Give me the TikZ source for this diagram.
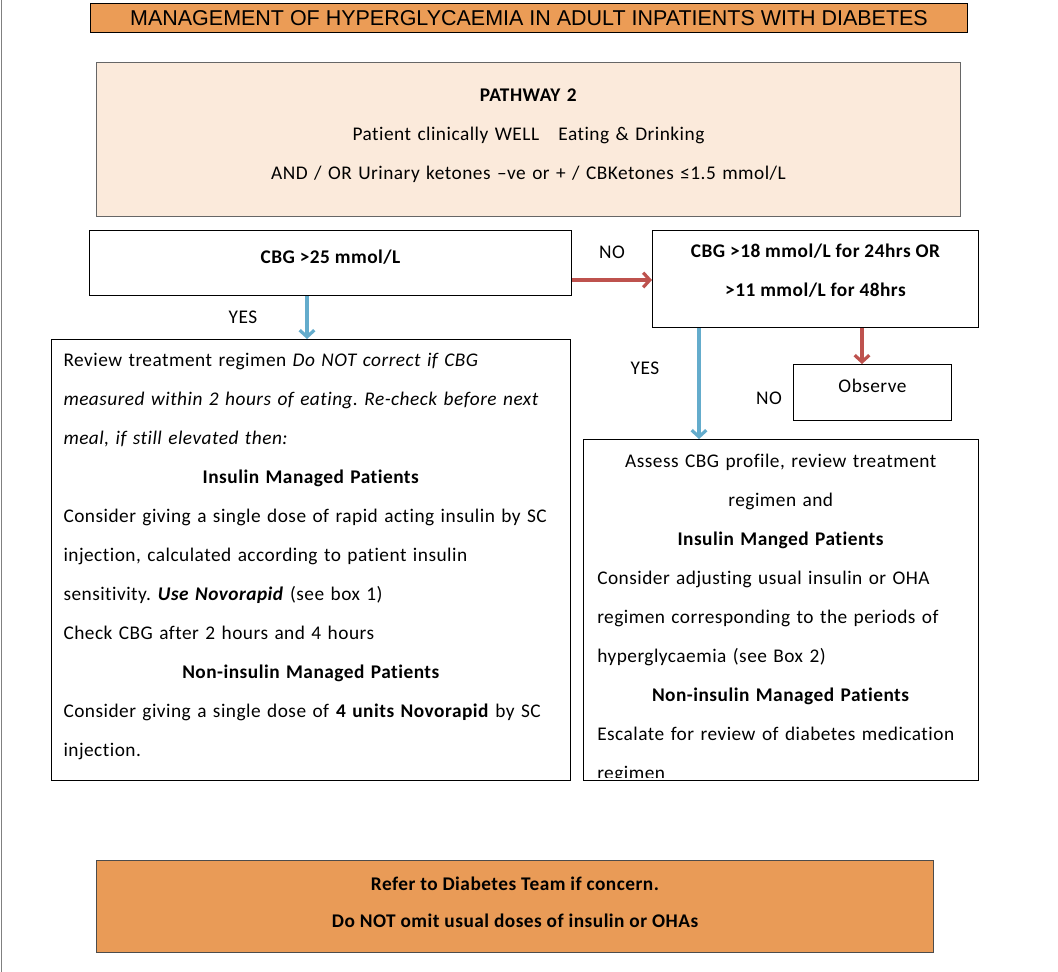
\documentclass[tikz,border=0pt]{standalone}
\usepackage{fontspec}
\setmainfont{Carlito}[LetterSpace=2.5,Ligatures=NoCommon]
\newfontfamily\titlefont{Liberation Sans}
\usetikzlibrary{arrows.meta, positioning}
\definecolor{titleorange}{RGB}{235,156,86}
\definecolor{peach}{RGB}{251,234,219}
\definecolor{footorange}{RGB}{233,155,87}
\definecolor{arrowred}{RGB}{190,82,78}
\definecolor{arrowblue}{RGB}{100,172,204}
\newdimen\px \px=0.75pt
% extra depth on a last line, lifts the text in its box
\newcommand{\pushup}[1]{\rule[-#1]{0pt}{0pt}}
\frenchspacing

\begin{document}
\begin{tikzpicture}[x=0.75pt,y=-0.75pt,
    every node/.style={font=\fontsize{14.5}{29.25}\selectfont},
    plainbox/.style={rectangle,draw=black,line width=0.75pt,inner sep=0pt,anchor=north west},
    boldtext/.style={font=\fontsize{14.5}{29.25}\selectfont\bfseries},
    flow/.style={line width=2.4pt,-{Straight Barb[length=5pt,width=11pt]}}]
    \useasboundingbox (0,0) rectangle (1058,972);
    \draw[gray] (1.5,0) -- (1.5,972);

    % Titolo
    \node[plainbox,fill=titleorange,minimum width=877\px,minimum height=29\px,font=\titlefont\fontsize{16.1}{18}\selectfont] (title) at (90,3) {MANAGEMENT OF HYPERGLYCAEMIA IN ADULT INPATIENTS WITH DIABETES};

    % Pathway
    \node[plainbox,draw=gray!80!black,fill=peach,minimum width=864\px,minimum height=154\px,text width=840\px,align=center] (path) at (96,62) {\textbf{PATHWAY 2}\\Patient clinically WELL\ \ \ Eating \& Drinking\\AND / OR Urinary ketones –ve or + / CBKetones ≤1.5 mmol/L\pushup{8pt}};

    % Domande
    \node[plainbox,boldtext,minimum width=482\px,minimum height=65\px,text height=8pt,text depth=8pt] (cbg25) at (89,230) {CBG >25 mmol/L};
    \node[plainbox,boldtext,minimum width=326\px,minimum height=97\px,align=center] (cbg18) at (652,230) {CBG >18 mmol/L for 24hrs OR\\>11 mmol/L for 48hrs\pushup{12.5pt}};
    \node[plainbox,minimum width=158\px,minimum height=56\px,text height=8pt,text depth=8pt] (observe) at (793,364) {Observe};

    % Azioni
    \node[plainbox,minimum width=519\px,minimum height=441\px,text width=495\px,align=left] (leftact) at (51,339) {Review treatment regimen \textit{Do NOT correct if CBG}\\
        \textit{measured within 2 hours of eating. Re-check before next}\\
        \textit{meal, if still elevated then:}\\
        \makebox[\hsize]{\textbf{Insulin Managed Patients}}\\
        Consider giving a single dose of rapid acting insulin by SC\\
        injection, calculated according to patient insulin\\
        sensitivity. \textbf{\textit{Use Novorapid}} (see box 1)\\
        Check CBG after 2 hours and 4 hours\\
        \makebox[\hsize]{\textbf{Non-insulin Managed Patients}}\\
        Consider giving a single dose of \textbf{4 units Novorapid} by SC\\
        injection.\pushup{7pt}};
    \node[plainbox,minimum width=395\px,minimum height=341\px] (rightact) at (583,439) {};
    \begin{scope}
        % the last line runs past the box, as in the source
        \clip (rightact.north west) rectangle ([yshift=3pt]rightact.south east);
        \node[anchor=north west,inner sep=0pt,text width=367\px,align=left] (righttext) at (597,454) {\makebox[\hsize]{Assess CBG profile, review treatment}\\
            \makebox[\hsize]{regimen and}\\
            \makebox[\hsize]{\textbf{Insulin Manged Patients}}\\
            Consider adjusting usual insulin or OHA\\
            regimen corresponding to the periods of\\
            hyperglycaemia (see Box 2)\\
            \makebox[\hsize]{\textbf{Non-insulin Managed Patients}}\\
            Escalate for review of diabetes medication\\
            regimen};
    \end{scope}

    % Nota finale
    \node[plainbox,draw=gray!60!black,fill=footorange,minimum width=837\px,minimum height=92\px,align=center,font=\fontsize{14.5}{27.75}\selectfont\bfseries] (footer) at (96,860) {Refer to Diabetes Team if concern.\\Do NOT omit usual doses of insulin or OHAs\pushup{6pt}};

    % Etichette
    \node (no1) at (612,252) {NO};
    \node (yes1) at (243,317) {YES};
    \node (yes2) at (645,368) {YES};
    \node (no2) at (769,398) {NO};

    % Connessioni
    \draw[flow,arrowred] (cbg25.east |- 0,280) -- (cbg18.west |- 0,280);
    \draw[flow,arrowblue] (cbg25.south -| 307,0) -- (leftact.north -| 307,0);
    \draw[flow,arrowblue] (cbg18.south -| 699,0) -- (rightact.north -| 699,0);
    \draw[flow,arrowred] (cbg18.south -| 862,0) -- (observe.north -| 862,0);
\end{tikzpicture}
\end{document}
